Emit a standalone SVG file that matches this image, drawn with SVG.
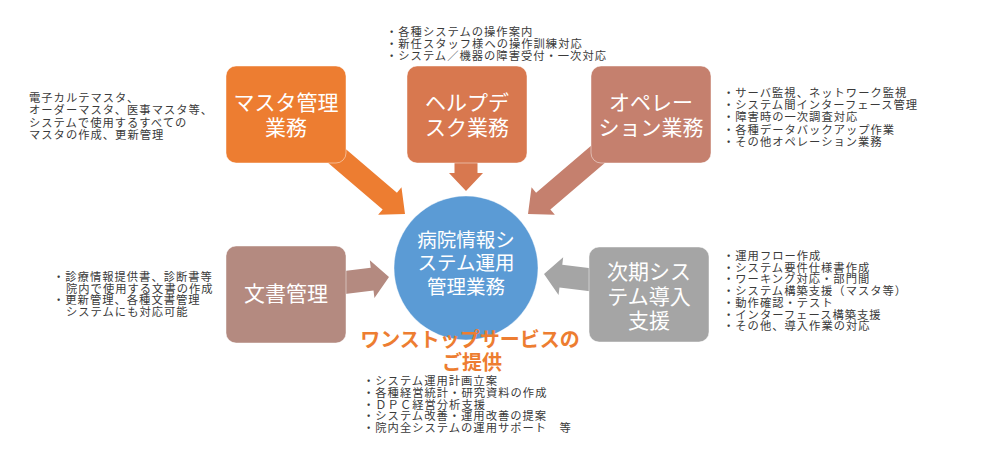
<svg xmlns="http://www.w3.org/2000/svg" width="1000" height="454" viewBox="0 0 1000 454">
<style>
  .box{stroke:#ffffff;stroke-opacity:0.45;stroke-width:1}
  .bt{font-family:"Noto Sans CJK JP","Noto Sans",sans-serif;font-size:21px;fill:#ffffff;text-anchor:middle}
  .ct{font-family:"Noto Sans CJK JP","Noto Sans",sans-serif;font-size:19.5px;fill:#ffffff;text-anchor:middle}
  .note{font-family:"Noto Sans CJK JP","Noto Sans",sans-serif;font-size:11.3px;letter-spacing:1px;fill:#3a3a3a}
  .hl{font-family:"Noto Sans CJK JP","Noto Sans",sans-serif;font-size:20px;font-weight:bold;fill:#ED7D31;text-anchor:middle}
</style>
<rect width="1000" height="454" fill="#ffffff"/>
<g id="connectors">
  <path fill="#ED7D31" transform="translate(405,214) rotate(40.47)" d="M0,0 L-20,-18 L-20,-11 L-100,-11 L-100,11 L-20,11 L-20,18 Z"/>
  <path fill="#D8784F" transform="translate(466,191) rotate(90)" d="M0,0 L-18,-17 L-18,-11.5 L-45,-11.5 L-45,11.5 L-18,11.5 L-18,17 Z"/>
  <path fill="#C5806E" transform="translate(528,214) rotate(139.53)" d="M0,0 L-20,-18 L-20,-11 L-100,-11 L-100,11 L-20,11 L-20,18 Z"/>
  <path fill="#B48A80" transform="translate(389,277) rotate(-7)" d="M0,0 L-17,-19 L-17,-11.5 L-58,-11.5 L-58,11.5 L-17,11.5 L-17,19 Z"/>
  <path fill="#A5A5A5" transform="translate(544,274) rotate(187)" d="M0,0 L-17,-19 L-17,-11.5 L-58,-11.5 L-58,11.5 L-17,11.5 L-17,19 Z"/>
</g>
<g id="node-master">
  <rect class="box" x="226" y="66" width="120" height="97" rx="10" fill="#ED7D31"/>
  <text class="bt" x="286" y="110">マスタ管理<tspan x="286" dy="25">業務</tspan></text>
</g>
<g id="node-helpdesk">
  <rect class="box" x="407" y="66" width="120" height="97" rx="10" fill="#D8784F"/>
  <text class="bt" x="467" y="110">ヘルプデ<tspan x="467" dy="25">スク業務</tspan></text>
</g>
<g id="node-operation">
  <rect class="box" x="591" y="66" width="120" height="97" rx="10" fill="#C5806E"/>
  <text class="bt" x="651" y="110">オペレー<tspan x="651" dy="25">ション業務</tspan></text>
</g>
<g id="node-document">
  <rect class="box" x="226" y="246" width="120" height="97" rx="10" fill="#B48A80"/>
  <text class="bt" x="286" y="301">文書管理</text>
</g>
<g id="node-nextsystem">
  <rect class="box" x="589" y="247" width="120" height="95" rx="10" fill="#A5A5A5"/>
  <text class="bt" x="649" y="279">次期シス<tspan x="649" dy="25">テム導入</tspan><tspan x="649" dy="24">支援</tspan></text>
</g>
<g id="node-center">
  <ellipse cx="466" cy="268" rx="72" ry="72" fill="#5B9BD5" stroke="#ffffff" stroke-opacity="0.4"/>
  <text class="ct" x="466" y="247">病院情報シ<tspan x="466" dy="23">ステム運用</tspan><tspan x="466" dy="24">管理業務</tspan></text>
</g>
<g id="note-master">
  <text class="note" x="29" y="101.5">電子カルテマスタ、<tspan x="29" dy="12.5">オーダーマスタ、医事マスタ等、</tspan><tspan x="29" dy="12.5">システムで使用するすべての</tspan><tspan x="29" dy="12.5">マスタの作成、更新管理</tspan></text>
</g>
<g id="note-helpdesk">
  <text class="note" x="386" y="36">・各種システムの操作案内<tspan x="386" dy="12">・新任スタッフ様への操作訓練対応</tspan><tspan x="386" dy="12">・システム／機器の障害受付・一次対応</tspan></text>
</g>
<g id="note-operation">
  <text class="note" x="723" y="97">・サーバ監視、ネットワーク監視<tspan x="723" dy="12.2">・システム間インターフェース管理</tspan><tspan x="723" dy="12.2">・障害時の一次調査対応</tspan><tspan x="723" dy="12.2">・各種データバックアップ作業</tspan><tspan x="723" dy="12.2">・その他オペレーション業務</tspan></text>
</g>
<g id="note-document">
  <text class="note" x="53" y="281">・診療情報提供書、診断書等<tspan x="66" dy="11.7">院内で使用する文書の作成</tspan><tspan x="53" dy="11.7">・更新管理、各種文書管理</tspan><tspan x="66" dy="11.7">システムにも対応可能</tspan></text>
</g>
<g id="note-nextsystem">
  <text class="note" x="723" y="260">・運用フロー作成<tspan x="723" dy="11.7">・システム要件仕様書作成</tspan><tspan x="723" dy="11.7">・ワーキング対応・部門間</tspan><tspan x="723" dy="11.7">・システム構築支援（マスタ等）</tspan><tspan x="723" dy="11.7">・動作確認・テスト</tspan><tspan x="723" dy="11.7">・インターフェース構築支援</tspan><tspan x="723" dy="11.7">・その他、導入作業の対応</tspan></text>
</g>
<g id="note-onestop">
  <text class="hl" x="470" y="347">ワンストップサービスの<tspan x="472" dy="23">ご提供</tspan></text>
  <text class="note" x="363" y="385">・システム運用計画立案<tspan x="363" dy="11.8">・各種経営統計・研究資料の作成</tspan><tspan x="363" dy="11.8">・ＤＰＣ経営分析支援</tspan><tspan x="363" dy="11.8">・システム改善・運用改善の提案</tspan><tspan x="363" dy="11.8">・院内全システムの運用サポート　等</tspan></text>
</g>
</svg>
